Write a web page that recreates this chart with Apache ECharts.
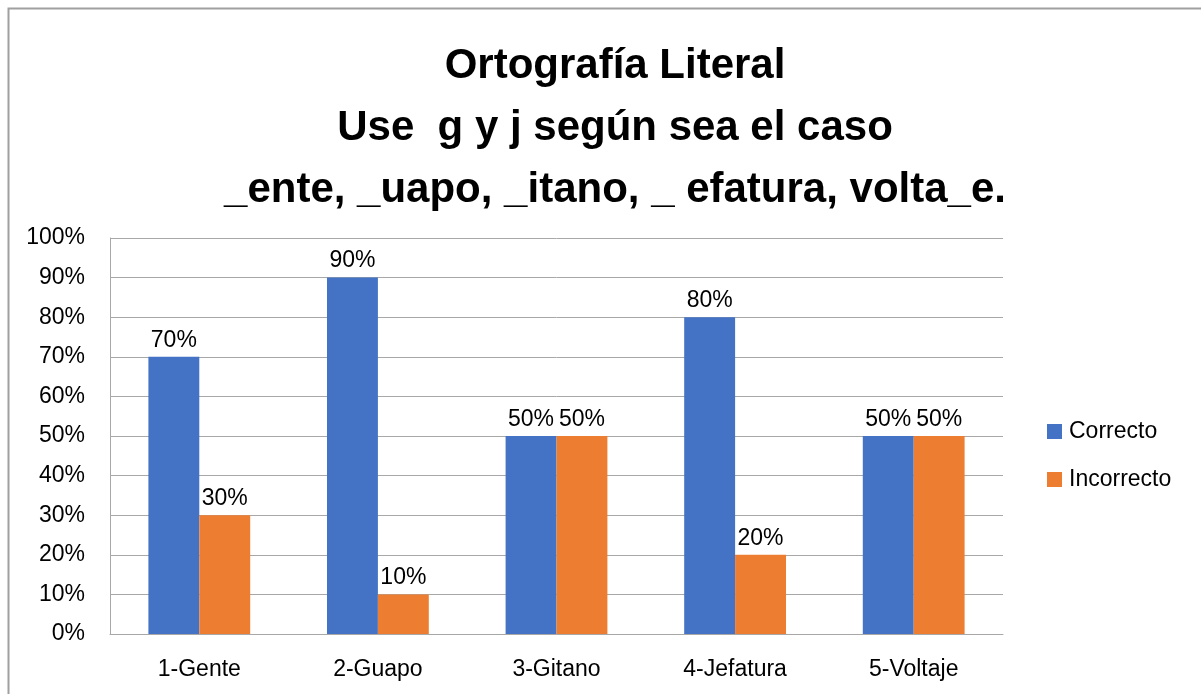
<!DOCTYPE html>
<html>
<head>
<meta charset="utf-8">
<script src="https://cdn.jsdelivr.net/npm/echarts@6/dist/echarts.min.js"></script>
<style>
  html, body { margin: 0; padding: 0; background: #fff; }
  #chart { width: 1201px; height: 694px; }
</style>
</head>
<body>
<div id="chart"></div>
<script>
const TITLE_LINES = [
  'Ortografía Literal',
  'Use  g y j según sea el caso',
  '_ente, _uapo, _itano, _ efatura, volta_e.'
];
const categories = ['1-Gente', '2-Guapo', '3-Gitano', '4-Jefatura', '5-Voltaje'];
const correcto = [70, 90, 50, 80, 50];
const incorrecto = [30, 10, 50, 20, 50];
const yTicks = { min: 0, max: 100, interval: 10 };

const FONT = '"Liberation Sans", Arial, sans-serif';
const TEXT = '#000';
const GRID_LINE = '#a8a8a8';

const chart = echarts.init(document.getElementById('chart'));

const labelStyle = {
  show: true,
  position: 'top',
  distance: 5,
  formatter: '{c}%',
  color: TEXT,
  fontFamily: FONT,
  fontSize: 23
};

chart.setOption({
  backgroundColor: '#fff',
  animation: false,
  graphic: [
    {
      type: 'rect',
      shape: { x: 8.5, y: 8.5, width: 1300, height: 800 },
      style: { fill: 'none', stroke: '#a0a0a0', lineWidth: 2 },
      z: -1
    }
  ],
  title: {
    text: TITLE_LINES.join('\n'),
    left: 610,
    textAlign: 'center',
    top: 30,
    textStyle: {
      fontFamily: FONT,
      fontWeight: 'bold',
      fontSize: 42,
      lineHeight: 62,
      color: TEXT
    }
  },
  legend: {
    orient: 'vertical',
    left: 1042,
    top: 415,
    itemWidth: 15,
    itemHeight: 15,
    itemGap: 25,
    icon: 'rect',
    textStyle: { fontFamily: FONT, fontSize: 23, color: TEXT, padding: [0, 0, 0, 2] },
    data: ['Correcto', 'Incorrecto']
  },
  grid: {
    left: 110,
    right: 198,
    top: 238,
    bottom: 60,
    containLabel: false
  },
  xAxis: {
    type: 'category',
    data: categories,
    axisLine: { lineStyle: { color: GRID_LINE, width: 1 } },
    axisTick: { show: false },
    axisLabel: {
      color: TEXT,
      fontFamily: FONT,
      fontSize: 23,
      margin: 24
    }
  },
  yAxis: {
    type: 'value',
    min: yTicks.min,
    max: yTicks.max,
    interval: yTicks.interval,
    axisLine: { show: true, lineStyle: { color: GRID_LINE, width: 1 } },
    axisTick: { show: false },
    axisLabel: {
      formatter: '{value}%',
      color: TEXT,
      fontFamily: FONT,
      fontSize: 23,
      margin: 25
    },
    splitLine: { lineStyle: { color: GRID_LINE, width: 1 } }
  },
  series: [
    {
      name: 'Correcto',
      type: 'bar',
      data: correcto,
      barGap: '0%',
      barCategoryGap: '43%',
      itemStyle: { color: '#4472C4' },
      label: labelStyle
    },
    {
      name: 'Incorrecto',
      type: 'bar',
      data: incorrecto,
      barGap: '0%',
      barCategoryGap: '43%',
      itemStyle: { color: '#ED7D31' },
      label: labelStyle
    }
  ]
});

window.addEventListener('resize', () => chart.resize());
</script>
</body>
</html>
